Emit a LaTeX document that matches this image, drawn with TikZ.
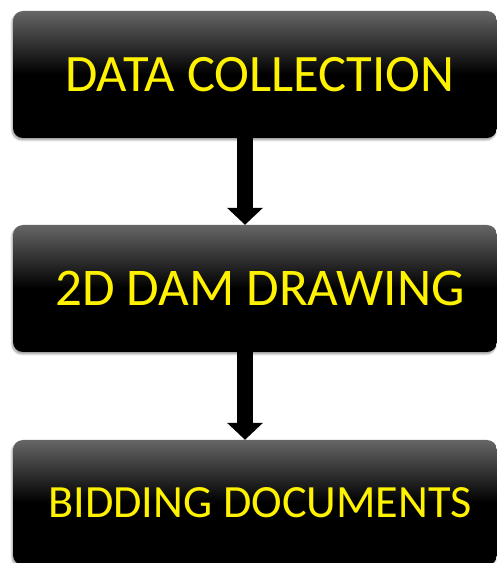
\documentclass[tikz,border=0pt]{standalone}
\usepackage{fontspec}
\setmainfont{Carlito}
\usetikzlibrary{arrows.meta,shadows.blur}
\pgfdeclareverticalshading{glossy}{100bp}{color(0bp)=(black); color(25bp)=(black); color(50bp)=(black); color(75bp)=(black!60); color(100bp)=(black!60)}
\tikzset{
  stagebox/.style={rectangle,rounded corners=10pt,shading=glossy,
    minimum width=484pt,minimum height=127pt,text=yellow,inner sep=0pt,
    blur shadow={shadow xshift=-1pt,shadow yshift=-2pt,shadow opacity=40,shadow blur steps=6}},
  flowarrow/.style={line width=16pt,-{Triangle[width=35pt,length=17pt]}}
}
\begin{document}
\begin{tikzpicture}[x=1pt,y=1pt]
\useasboundingbox (0,0) rectangle (497,563);

% Stages
\node[stagebox,font=\fontsize{52.6}{62}\selectfont] (collect) at (255,488.5) {\kern10pt DATA COLLECTION};
\node[stagebox,font=\fontsize{53}{63}\selectfont] (drawing) at (255,274.5) {\kern10pt 2D DAM DRAWING};
\node[stagebox,minimum height=125pt,font=\fontsize{46.2}{55}\selectfont] (bidding) at (255,60.5) {\kern10pt BIDDING DOCUMENTS};

% Flow
\draw[flowarrow] ([xshift=-10pt]collect.south) -- ([xshift=-10pt]drawing.north);
\draw[flowarrow] ([xshift=-10pt]drawing.south) -- ([xshift=-10pt]bidding.north);
\end{tikzpicture}
\end{document}
